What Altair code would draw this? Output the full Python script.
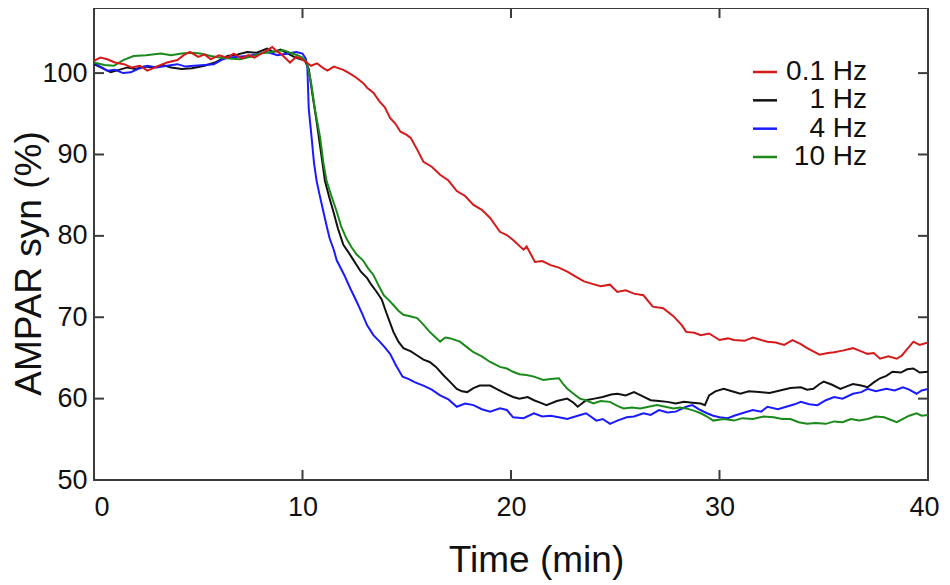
import altair as alt
import pandas as pd

FONT = "Liberation Sans"

labels = ["0.1 Hz", "1 Hz", "4 Hz", "10 Hz"]
colors = ["#d61a1a", "#111111", "#1a1aff", "#1a8a1a"]

t_red = [0, 0.3, 0.64, 1.0, 1.44, 1.8, 2.2, 2.56, 3.0, 3.5, 4.0, 4.3, 4.6, 5.0, 5.3, 5.6, 6.0, 6.4, 6.7, 7.1,
         7.4, 7.7, 8.1, 8.55, 8.8, 8.95, 9.2, 9.4, 9.7, 9.9, 10.2, 10.4, 10.7, 11.0, 11.2, 11.5, 11.96, 12.3,
         12.6, 12.9, 13.1, 13.4, 13.7, 13.95, 14.2, 14.45, 14.7, 15.0, 15.2, 15.5, 15.8, 16.2, 16.6, 17.0,
         17.4, 17.8, 18.2, 18.6, 19.0, 19.47, 19.8, 20.1, 20.6, 20.75, 21.15, 21.5, 21.9, 22.3, 22.7, 23.1,
         23.5, 23.9, 24.3, 24.75, 25.1, 25.5, 25.9, 26.35, 26.8, 27.3, 27.8, 28.2, 28.4, 28.8, 29.1, 29.5,
         30.0, 30.4, 30.7, 31.2, 31.6, 32.0, 32.3, 32.7, 33.1, 33.5, 33.9, 34.2, 34.5, 34.8, 35.2, 35.5,
         35.9, 36.4, 36.8, 37.1, 37.4, 37.7, 38.1, 38.5, 38.75, 38.97, 39.3, 39.6, 40.0]
v_red = [101.5, 101.9, 101.7, 101.3, 101.1, 100.7, 100.9, 100.3, 100.8, 101.3, 101.6, 102.2, 102.6, 102.0,
         102.3, 101.7, 102.2, 101.9, 102.4, 101.8, 102.2, 101.9, 102.5, 103.2, 102.6, 102.4, 101.8, 101.3,
         102.0, 101.8, 101.3, 100.9, 101.2, 100.6, 100.3, 100.8, 100.4, 99.9, 99.4, 98.8, 98.2, 97.6, 96.5,
         95.8, 94.5, 93.8, 92.8, 92.4, 92.0, 90.6, 89.1, 88.5, 87.5, 86.8, 85.5, 84.9, 83.8, 83.2, 82.2,
         80.5, 80.1, 79.5, 78.3, 78.7, 76.8, 76.9, 76.4, 76.1, 75.6, 75.0, 74.4, 74.1, 73.8, 74.0, 73.1,
         73.3, 72.9, 72.7, 71.3, 71.1, 70.1, 69.0, 68.2, 68.1, 67.8, 68.0, 67.2, 67.4, 67.2, 67.1, 67.5,
         67.2, 67.0, 66.9, 66.6, 67.2, 66.7, 66.2, 65.8, 65.4, 65.6, 65.7, 65.9, 66.2, 65.8, 65.5, 65.6,
         64.9, 65.2, 64.9, 65.3, 66.0, 67.0, 66.6, 66.9]

t_black = [0, 0.4, 0.8, 1.2, 1.6, 2.0, 2.4, 2.9, 3.3, 3.7, 4.2, 4.7, 5.3, 5.8, 6.4, 6.9, 7.35, 7.8, 8.3, 8.6,
           8.95, 9.3, 9.6, 9.9, 10.1, 10.3, 10.5, 10.68, 10.9, 11.08, 11.3, 11.48, 11.7, 11.96, 12.2, 12.4,
           12.8, 13.1, 13.3, 13.56, 13.8, 14.0, 14.2, 14.36, 14.6, 14.84, 15.2, 15.5, 15.8, 16.1, 16.4,
           16.75, 17.1, 17.4, 17.65, 17.9, 18.2, 18.5, 19.0, 19.3, 19.6, 20.1, 20.4, 20.8, 21.1, 21.4, 21.7,
           22.2, 22.7, 23.0, 23.2, 23.6, 24.0, 24.4, 24.8, 25.1, 25.5, 25.9, 26.3, 26.7, 27.1, 27.5, 27.9,
           28.3, 28.7, 29.1, 29.3, 29.5, 29.8, 30.2, 30.6, 31.0, 31.4, 31.9, 32.4, 32.9, 33.4, 33.9, 34.2,
           34.5, 34.8, 35.0, 35.4, 35.8, 36.1, 36.4, 36.8, 37.1, 37.4, 37.7, 38.0, 38.3, 38.7, 39.0, 39.3,
           39.6, 40.0]
v_black = [101.1, 100.6, 100.1, 100.4, 100.7, 100.5, 100.8, 100.7, 101.0, 100.7, 100.5, 100.6, 100.9,
           101.3, 102.1, 102.3, 102.6, 102.5, 103.0, 102.6, 102.9, 102.4, 102.0, 101.7, 101.6, 100.5, 97.0,
           94.0, 90.0, 86.7, 84.6, 83.0, 80.9, 78.9, 78.0, 77.2, 75.6, 74.8, 74.0, 73.1, 72.2, 70.7, 69.3,
           68.2, 67.0, 66.2, 65.8, 65.3, 64.8, 64.5, 63.9, 62.9, 62.0, 61.2, 60.9, 60.8, 61.3, 61.6, 61.6,
           61.2, 60.8, 60.2, 60.0, 60.2, 59.8, 59.5, 59.2, 59.7, 60.0, 59.5, 59.0, 59.8, 60.0, 60.2, 60.5,
           60.6, 60.4, 60.8, 60.3, 59.8, 59.7, 59.6, 59.4, 59.6, 59.5, 59.4, 59.2, 60.4, 60.9, 61.2, 60.9,
           60.6, 60.9, 60.8, 60.7, 61.0, 61.3, 61.4, 61.1, 61.2, 61.8, 62.1, 61.7, 61.2, 61.5, 61.8, 61.6,
           61.4, 62.0, 62.5, 62.8, 63.3, 63.2, 63.6, 63.7, 63.2, 63.3]

t_blue = [0, 0.3, 0.64, 1.0, 1.4, 1.76, 2.1, 2.56, 3.0, 3.5, 4.0, 4.4, 4.8, 5.3, 5.75, 6.1, 6.4, 6.9, 7.35,
          7.8, 8.3, 8.8, 9.3, 9.7, 10.0, 10.15, 10.23, 10.3, 10.44, 10.55, 10.68, 10.85, 11.0, 11.15, 11.3,
          11.5, 11.64, 11.8, 12.0, 12.3, 12.6, 12.85, 13.1, 13.4, 13.7, 13.95, 14.2, 14.5, 14.8, 15.1, 15.4,
          15.8, 16.2, 16.6, 17.0, 17.4, 17.8, 18.2, 18.6, 19.0, 19.47, 19.8, 20.1, 20.6, 21.1, 21.5, 21.9,
          22.3, 22.7, 23.2, 23.6, 24.1, 24.4, 24.75, 25.1, 25.55, 25.9, 26.35, 26.7, 27.1, 27.5, 27.9, 28.4,
          28.7, 29.0, 29.4, 29.7, 30.0, 30.4, 30.7, 31.2, 31.6, 32.0, 32.3, 32.8, 33.2, 33.6, 33.9, 34.3,
          34.7, 35.1, 35.5, 35.9, 36.4, 36.8, 37.1, 37.5, 38.0, 38.4, 38.8, 39.1, 39.45, 39.7, 40.0]
v_blue = [101.3, 100.8, 100.3, 100.4, 100.0, 100.1, 100.5, 100.9, 100.7, 100.9, 101.1, 100.8, 100.9, 101.0,
          101.1, 101.6, 101.9, 102.0, 102.1, 102.3, 102.6, 102.2, 102.4, 102.6, 102.4, 101.8, 100.9, 95.6,
          92.0, 89.0, 86.7, 84.7, 83.0, 81.3, 79.7, 78.3, 77.0, 76.2, 75.2, 73.5, 71.9, 70.5, 69.0, 67.8,
          67.0, 66.3, 65.5, 64.0, 62.7, 62.4, 62.0, 61.6, 61.1, 60.4, 59.9, 59.0, 59.4, 59.2, 58.7, 58.4,
          58.8, 58.6, 57.7, 57.6, 58.2, 57.8, 57.9, 57.7, 57.5, 57.9, 58.2, 57.3, 57.5, 56.9, 57.3, 57.7,
          57.8, 58.2, 58.0, 58.6, 58.3, 58.4, 59.0, 59.2, 58.7, 58.2, 57.9, 57.7, 57.6, 57.9, 58.3, 58.6,
          58.4, 59.0, 58.7, 59.0, 59.3, 59.6, 59.3, 59.2, 59.8, 60.2, 60.0, 60.6, 60.8, 61.2, 60.9, 61.2,
          61.0, 61.4, 61.1, 60.6, 61.0, 61.2]

t_green = [0, 0.5, 0.96, 1.4, 1.9, 2.5, 3.2, 3.7, 4.2, 4.7, 5.1, 5.6, 6.1, 6.5, 7.0, 7.5, 8.0, 8.5, 9.1, 9.4,
           9.75, 10.0, 10.2, 10.4, 10.6, 10.85, 11.0, 11.16, 11.4, 11.64, 11.85, 12.1, 12.35, 12.6, 12.9,
           13.15, 13.4, 13.65, 13.9, 14.1, 14.36, 14.6, 14.84, 15.2, 15.5, 15.8, 16.1, 16.35, 16.6, 16.85,
           17.1, 17.55, 17.9, 18.2, 18.6, 19.0, 19.47, 19.8, 20.1, 20.4, 20.75, 21.1, 21.55, 21.9, 22.3, 22.5,
           22.7, 23.0, 23.3, 23.6, 23.95, 24.3, 24.75, 25.1, 25.4, 25.8, 26.2, 26.6, 27.0, 27.4, 27.8, 28.1,
           28.4, 28.8, 29.1, 29.4, 29.7, 30.2, 30.7, 31.1, 31.6, 32.1, 32.6, 33.0, 33.4, 33.8, 34.2, 34.6,
           35.1, 35.5, 35.9, 36.3, 36.7, 37.1, 37.5, 37.9, 38.2, 38.5, 38.8, 39.1, 39.45, 39.7, 40.0]
v_green = [101.3, 101.0, 100.9, 101.6, 102.1, 102.2, 102.4, 102.2, 102.4, 102.5, 102.4, 102.1, 101.9, 101.8,
           101.7, 102.0, 102.4, 102.6, 102.8, 102.5, 102.2, 101.9, 101.3, 99.0, 95.5, 92.0, 89.0, 86.7, 84.8,
           83.0, 81.2, 79.7, 78.6, 77.7, 77.0, 76.0, 75.2, 73.9, 72.7, 72.2, 71.5, 70.8, 70.3, 70.1, 69.9,
           69.1, 68.2, 67.6, 67.0, 67.5, 67.4, 67.0, 66.3, 65.7, 65.2, 64.5, 63.9, 63.7, 63.3, 63.0, 62.9,
           62.7, 62.3, 62.4, 62.5, 61.8, 61.2, 60.6, 60.0, 59.8, 59.4, 59.7, 59.6, 59.1, 58.8, 58.9, 58.8,
           59.0, 59.2, 59.0, 58.8, 58.9, 58.8, 58.5, 58.2, 57.8, 57.3, 57.5, 57.3, 57.6, 57.5, 57.8, 57.7,
           57.5, 57.5, 57.1, 56.9, 57.0, 56.9, 57.2, 57.1, 57.5, 57.3, 57.5, 57.8, 57.7, 57.4, 57.1, 57.5,
           57.9, 58.2, 57.9, 58.0]

x_ticks = [0, 10, 20, 30, 40]
y_ticks = [50, 60, 70, 80, 90, 100]
inner_x_ticks = [10, 20, 30]
inner_y_ticks = [60, 70, 80, 90, 100]

W, H = 834, 472
AX = "#3c3c3c"

rows = []
for lab, ts, vs in [("1 Hz", t_black, v_black), ("4 Hz", t_blue, v_blue),
                    ("10 Hz", t_green, v_green), ("0.1 Hz", t_red, v_red)]:
    for i, (t, v) in enumerate(zip(ts, vs)):
        rows.append({"series": lab, "t": t, "v": v, "i": i})
df = pd.DataFrame(rows)

xscale = alt.Scale(domain=[0, 40], nice=False, zero=False)
yscale = alt.Scale(domain=[50, 108], nice=False, zero=False)
cscale = alt.Scale(domain=labels, range=colors)

lines = alt.Chart(df).mark_line(strokeWidth=2, clip=True).encode(
    x=alt.X("t:Q", scale=xscale, axis=alt.Axis(
        values=x_ticks, ticks=False, domain=False, grid=False, labelFontSize=27,
        labelFont=FONT, labelColor="#111", labelPadding=14, labelFlush=False,
        labelAlign={"condition": {"test": "datum.value === 0", "value": "left"}, "value": "center"},
        labelOffset={"condition": {"test": "datum.value === 40", "value": -4}, "value": 0},
        title="Time (min)", titleFont=FONT, titleFontSize=37, titleFontWeight="normal",
        titleColor="#111", titleX=442, titleY=91, titleBaseline="alphabetic", titleAlign="center")),
    y=alt.Y("v:Q", scale=yscale, axis=alt.Axis(
        values=y_ticks, ticks=False, domain=False, grid=False, labelFontSize=27,
        labelFont=FONT, labelColor="#111", labelPadding=7, labelFlush=False,
        title="AMPAR syn (%)", titleFont=FONT, titleFontSize=37, titleFontWeight="normal",
        titleColor="#111", titleX=-54, titleY=255, titleBaseline="alphabetic",
        titleAlign="center", titleAngle=-90)),
    color=alt.Color("series:N", scale=cscale, legend=None),
    detail="series:N",
    order="i:Q",
)

xt = pd.DataFrame({"tick": inner_x_ticks})
yt = pd.DataFrame({"tick": inner_y_ticks})
tick_style = dict(color=AX, strokeWidth=2)
bottom_ticks = alt.Chart(xt).mark_rule(**tick_style).encode(
    x=alt.X("tick:Q", scale=xscale), y=alt.value(H), y2=alt.value(H - 10))
top_ticks = alt.Chart(xt).mark_rule(**tick_style).encode(
    x=alt.X("tick:Q", scale=xscale), y=alt.value(0), y2=alt.value(10))
left_ticks = alt.Chart(yt).mark_rule(**tick_style).encode(
    y=alt.Y("tick:Q", scale=yscale), x=alt.value(0), x2=alt.value(10))
right_ticks = alt.Chart(yt).mark_rule(**tick_style).encode(
    y=alt.Y("tick:Q", scale=yscale), x=alt.value(W), x2=alt.value(W - 10))

main = alt.layer(lines, bottom_ticks, top_ticks, left_ticks, right_ticks)

leg_df = pd.DataFrame({"series": labels})
leg_y = alt.Y("series:N", scale=alt.Scale(type="point", domain=labels, range=[64, 149], padding=0),
              axis=None)
leg_lines = alt.Chart(leg_df).mark_rule(strokeWidth=2.5).encode(
    y=leg_y, x=alt.value(659), x2=alt.value(683),
    color=alt.Color("series:N", scale=cscale, legend=None))
leg_text = alt.Chart(leg_df).mark_text(align="right", baseline="middle", fontSize=28,
                                       font=FONT, color="#111").encode(
    y=leg_y, x=alt.value(773), text="series:N")
legend = alt.layer(leg_lines, leg_text)

chart = alt.layer(main, legend).resolve_scale(y="independent").properties(
    width=W, height=H,
    padding={"left": 86, "top": 0, "right": 14, "bottom": 104},
    autosize=alt.AutoSizeParams(type="none"),
    background="white",
).configure_view(stroke=AX, strokeWidth=2)

chart.save("out.html", embed_options={"renderer": "svg", "actions": False})
